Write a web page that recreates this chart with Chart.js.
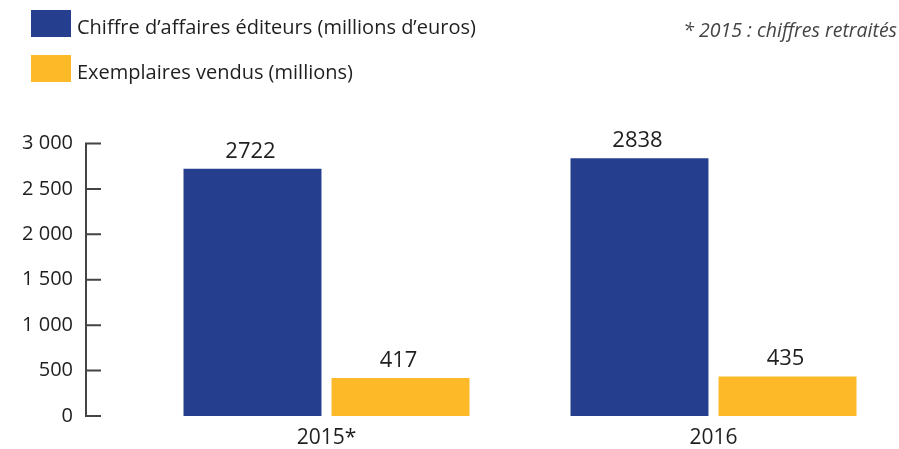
<!DOCTYPE html>
<html lang="fr">
<head>
<meta charset="utf-8">
<title>Chiffre d'affaires éditeurs et exemplaires vendus</title>
<script src="https://cdn.jsdelivr.net/npm/chart.js@4.4.1/dist/chart.umd.min.js"></script>
<style>
  html, body { margin: 0; padding: 0; background: #fff; overflow: hidden; }
  #chart { display: block; }
</style>
</head>
<body>
<canvas id="chart" width="907" height="449"></canvas>
<script>
// data
const years = ['2015*', '2016'];
const seriesNames = ['Chiffre d’affaires éditeurs (millions d’euros)', 'Exemplaires vendus (millions)'];
const chiffreAffaires = [2722, 2838];
const exemplaires = [417, 435];
const yTicks = [0, 500, 1000, 1500, 2000, 2500, 3000];
const note = '* 2015 : chiffres retraités';

const BLUE = '#253f8e';
const YELLOW = '#fdb927';
const TEXT = '#1f1f1f';
const AXIS_X = 86;

Chart.defaults.font.family = '"Open Sans", sans-serif';
Chart.defaults.color = TEXT;

// "3 000" style labels
function formatTick(v) {
    if (v < 1000) return String(v);
    return Math.floor(v / 1000) + ' ' + String(v % 1000).padStart(3, '0');
}

// axis line with the small ticks pointing inward
const axisLine = {
    id: 'axisLine',
    afterDraw(chart) {
        const y = chart.scales.y;
        const ctx = chart.ctx;
        ctx.save();
        ctx.strokeStyle = '#444';
        ctx.lineWidth = 2;
        ctx.beginPath();
        ctx.moveTo(AXIS_X, y.getPixelForValue(yTicks[yTicks.length - 1]) - 1);
        ctx.lineTo(AXIS_X, y.getPixelForValue(yTicks[0]) + 1);
        yTicks.forEach(v => {
            const py = y.getPixelForValue(v);
            ctx.moveTo(AXIS_X, py);
            ctx.lineTo(AXIS_X + 15, py);
        });
        ctx.stroke();
        ctx.restore();
    }
};

// numbers above bars
const valueLabels = {
    id: 'valueLabels',
    afterDatasetsDraw(chart) {
        const ctx = chart.ctx;
        ctx.save();
        ctx.font = '22px "Open Sans"';
        ctx.fillStyle = TEXT;
        ctx.textAlign = 'center';
        ctx.textBaseline = 'alphabetic';
        chart.data.datasets.forEach((ds, i) => {
            chart.getDatasetMeta(i).data.forEach((bar, j) => {
                ctx.fillText(ds.data[j], bar.x - 2, bar.y - 11);
            });
        });
        ctx.restore();
    }
};

// stacked legend top-left + note top-right
const topLegend = {
    id: 'topLegend',
    afterDraw(chart) {
        const ctx = chart.ctx;
        ctx.save();
        chart.data.datasets.forEach((ds, i) => {
            const top = 10 + i * 45;
            ctx.fillStyle = ds.backgroundColor;
            ctx.fillRect(31, top, 40, 27);
            ctx.fillStyle = TEXT;
            ctx.font = '20px "Open Sans"';
            ctx.textAlign = 'left';
            ctx.textBaseline = 'alphabetic';
            ctx.fillText(ds.label, 77, top + 24);
        });
        ctx.font = 'italic 19.5px "Open Sans"';
        ctx.fillStyle = '#444';
        ctx.textAlign = 'right';
        ctx.fillText(note, 897, 37);
        ctx.restore();
    }
};

new Chart(document.getElementById('chart'), {
    type: 'bar',
    data: {
        labels: years,
        datasets: [
            { label: seriesNames[0], data: chiffreAffaires, backgroundColor: BLUE },
            { label: seriesNames[1], data: exemplaires, backgroundColor: YELLOW }
        ]
    },
    options: {
        responsive: false,
        animation: false,
        devicePixelRatio: 1,
        events: [],
        categoryPercentage: 0.765,
        barPercentage: 0.932,
        layout: { padding: { top: 143.5, right: 0, bottom: 0, left: 0 } },
        plugins: {
            legend: { display: false },
            tooltip: { enabled: false }
        },
        scales: {
            x: {
                grid: { display: false, drawTicks: false },
                border: { display: false },
                ticks: { font: { size: 21 }, color: TEXT, padding: 9 },
                afterFit: s => { s.height = 33; }
            },
            y: {
                min: 0,
                max: 3000,
                // tick marks hidden; tickLength only reserves room between labels and plot
                grid: { display: false, drawTicks: true, tickLength: 50 },
                border: { display: false },
                afterBuildTicks: s => { s.ticks = yTicks.map(v => ({ value: v })); },
                ticks: { font: { size: 20 }, color: TEXT, padding: 10, callback: v => formatTick(v) },
                afterFit: s => { s.width = 133; }
            }
        }
    },
    plugins: [axisLine, valueLabels, topLegend]
});
</script>
</body>
</html>
